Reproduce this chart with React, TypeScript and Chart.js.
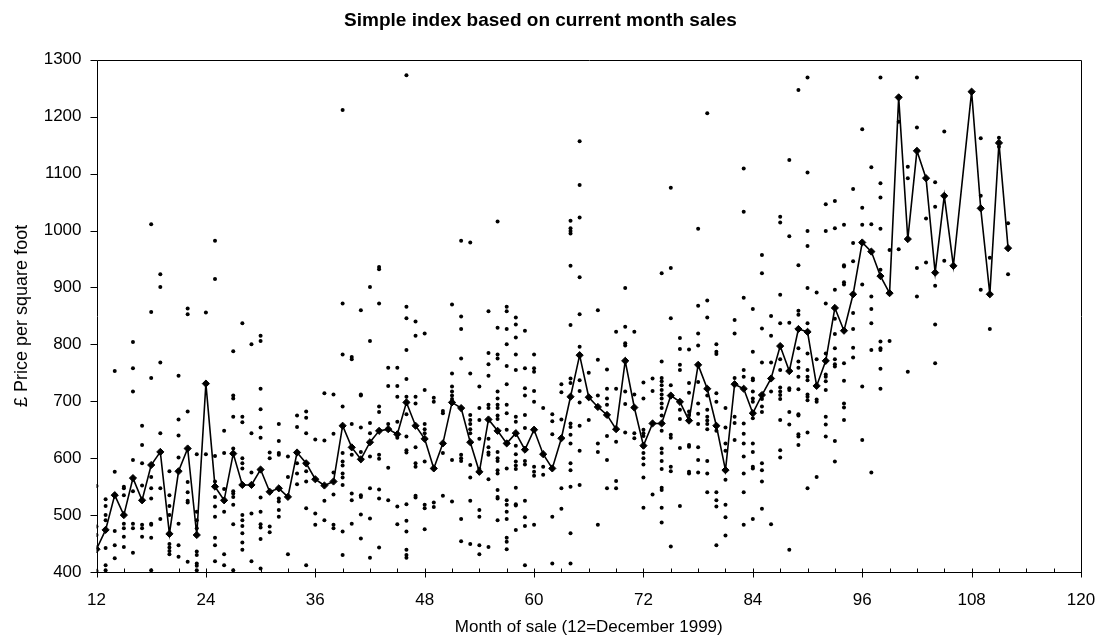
import React, { useEffect, useRef } from "react";
import { Chart, registerables } from "chart.js";

Chart.register(...registerables);

// Index (mean price per month)
const indexMonths: number[] = [
  12, 13, 14, 15, 16, 17, 18, 19, 20, 21, 22, 23, 24, 25, 26, 27, 28, 29, 30, 31, 32, 33, 34, 35,
  36, 37, 38, 39, 40, 41, 42, 43, 44, 45, 46, 47, 48, 49, 50, 51, 52, 53, 54, 55, 56, 57, 58, 59,
  60, 61, 62, 63, 64, 65, 66, 67, 68, 69, 70, 71, 72, 73, 74, 75, 76, 77, 78, 79, 80, 81, 82, 83,
  84, 85, 86, 87, 88, 89, 90, 91, 92, 93, 94, 95, 96, 97, 98, 99, 100, 101, 102, 103, 104, 105,
  106, 108, 109, 110, 111, 112,
];
const indexValues: number[] = [
  440, 474, 535, 500, 565, 526, 588, 611, 467, 577, 617, 465, 731, 550, 526, 608, 553, 553, 580, 541, 547, 532, 610, 591,
  563, 552, 559, 657, 619, 598, 628, 648, 651, 642, 698, 657, 634, 582, 626, 698, 688, 628, 576, 668, 648, 626, 644, 615,
  650, 607, 582, 635, 708, 781, 707, 690, 676, 651, 771, 689, 622, 661, 661, 710, 699, 666, 764, 722, 657, 579, 730, 722,
  679, 711, 740, 797, 753, 827, 822, 727, 771, 864, 824, 888, 979, 963, 920, 890, 1234, 985, 1140, 1092, 926, 1061,
  938, 1244, 1039, 888, 1154, 969,
];

// Individual sales: first month of the list, then one list of prices per month
const firstSaleMonth = 12;
const salePrices: number[][] = [
  [551, 480, 465, 402],
  [528, 516, 500, 491, 442, 412, 403],
  [753, 576, 472, 447, 424],
  [550, 547, 535, 485, 477, 462, 444],
  [804, 758, 717, 597, 542, 485, 477, 434],
  [657, 623, 591, 552, 483, 477, 462],
  [1011, 857, 741, 567, 547, 529, 485, 483, 460, 403],
  [923, 901, 768, 644, 547, 493],
  [577, 535, 516, 500, 449, 443, 437, 431],
  [745, 668, 640, 601, 485, 447, 427],
  [863, 853, 682, 558, 540, 525, 522, 418],
  [607, 506, 491, 477, 436, 430, 415, 411, 403],
  [856, 607],
  [982, 915, 604, 559, 532, 515, 497, 460, 447, 419],
  [648, 609, 546, 506, 431, 412],
  [788, 710, 705, 673, 617, 542, 538, 532, 518, 484, 403],
  [837, 673, 663, 600, 591, 582, 500, 491, 481, 468, 452, 439],
  [800, 644, 575, 503, 419],
  [815, 806, 722, 686, 654, 636, 531, 506, 484, 478, 458, 406],
  [610, 600, 480, 470],
  [660, 630, 609, 606, 529, 524, 509, 497],
  [603, 567, 431],
  [675, 655, 591, 573, 554],
  [682, 671, 644, 577, 559, 512, 412],
  [633, 503, 483],
  [714, 631, 525, 491],
  [712, 643, 575, 536, 483, 477],
  [1212, 872, 782, 691, 609, 594, 587, 573, 566, 553, 471, 430],
  [778, 774, 660, 606, 538, 526, 485],
  [860, 712, 710, 654, 611, 535, 532, 501, 459],
  [901, 806, 662, 644, 603, 547, 494, 425],
  [936, 932, 872, 691, 681, 606, 599, 545, 529, 443],
  [759, 727, 660, 583, 526],
  [759, 727, 708, 664, 636, 515, 484],
  [1273, 866, 846, 790, 739, 708, 677, 638, 614, 610, 519, 490, 471, 439, 430, 425],
  [840, 815, 708, 696, 619, 591, 585, 534, 531],
  [819, 720, 660, 651, 644, 594, 518, 512, 475],
  [706, 699, 522, 514],
  [683, 679, 609, 534],
  [870, 749, 726, 717, 710, 704, 699, 597, 524],
  [982, 849, 827, 775, 606, 600, 595, 493, 454],
  [979, 749, 676, 667, 660, 651, 644, 588, 566, 525, 449],
  [726, 688, 667, 634, 581, 509, 497, 447, 431],
  [858, 785, 765, 745, 694, 688, 634, 619, 610, 606, 563, 444],
  [1016, 829, 782, 775, 717, 705, 694, 688, 675, 669, 611, 600, 595, 579, 573, 544, 532, 529, 491],
  [866, 858, 827, 800, 762, 730, 694, 679, 650, 582, 526, 518, 506, 493, 460, 453, 440],
  [847, 835, 812, 782, 755, 673, 664, 641, 622, 607, 594, 587, 581, 548, 519, 517, 474],
  [824, 758, 723, 710, 676, 653, 595, 589, 525, 496, 481, 412],
  [782, 758, 752, 718, 699, 585, 576, 569, 483],
  [688, 585, 571],
  [677, 665, 642, 497, 415],
  [730, 716, 668, 547, 511],
  [1017, 1004, 999, 995, 938, 834, 740, 732, 661, 655, 641, 626, 591, 579, 550, 468, 415],
  [1157, 1080, 1023, 918, 853, 796, 737, 718, 698, 657, 613, 553],
  [750, 667],
  [860, 773, 710, 626, 611, 483],
  [756, 722, 705, 694, 639, 597, 547],
  [822, 722, 629, 560, 547],
  [899, 831, 802, 798, 717, 695, 645],
  [822, 712, 644, 635],
  [733, 705, 650, 644, 639, 620, 609, 600, 589, 566, 513],
  [740, 718, 536],
  [925, 770, 741, 735, 728, 720, 712, 705, 696, 688, 675, 648, 617, 609, 595, 581, 548, 544, 513, 487],
  [1075, 934, 846, 728, 641, 636, 585, 577, 445],
  [811, 792, 764, 755, 685, 669, 618, 516],
  [791, 732, 715, 682, 676, 623, 620, 576, 573],
  [1003, 868, 819, 798, 734, 696, 678, 660, 619, 597, 575],
  [1206, 877, 847, 710, 685, 673, 666, 660, 651, 595, 573, 540],
  [800, 787, 783, 714, 699, 648, 540, 526, 515, 447],
  [688, 654, 626, 613, 562, 518, 496, 464],
  [843, 819, 741, 673, 662, 632],
  [1109, 1033, 882, 755, 743, 661, 643, 626, 603, 573, 540, 483],
  [862, 787, 740, 737, 717, 705, 699, 670, 626, 611, 585, 582, 493],
  [957, 925, 828, 768, 704, 691, 681, 591, 579, 559, 511],
  [850, 815, 768, 717, 484],
  [1024, 1014, 887, 837, 774, 755, 724, 717, 711, 704, 667, 614, 601],
  [1124, 990, 838, 723, 720, 681, 659, 439],
  [1247, 939, 859, 852, 793, 770, 759, 743, 721, 677, 675, 642, 638, 623],
  [1269, 1102, 999, 973, 899, 837, 784, 755, 743, 737, 712, 708, 702, 645, 547],
  [891, 774, 703, 699, 567],
  [1046, 999, 872, 784, 747, 743, 735, 720, 673, 659, 638],
  [1052, 1004, 896, 845, 818, 793, 774, 765, 761, 630, 594],
  [1010, 939, 937, 909, 905, 767, 736, 696, 689, 667],
  [1073, 978, 946, 855, 827, 794, 777],
  [1178, 1040, 1010, 905, 726, 632],
  [1111, 1011, 884, 862, 837, 790, 575],
  [1269, 1083, 1058, 1003, 931, 805, 793, 790, 757, 722],
  [966, 806],
  [1191, 967],
  [1112, 1092, 752],
  [1269, 1181, 934, 884],
  [1021, 944],
  [1085, 1042, 903, 835, 767],
  [1174, 947],
  [],
  [],
  [],
  [1162, 1061, 896],
  [952, 827],
  [1163, 1147],
  [1013, 923],
];

const xMin = 12;
const xMax = 120;
const xStep = 12;
const xMinorStep = 3;
const yMin = 400;
const yMax = 1300;
const yStep = 100;

const titleText = "Simple index based on current month sales";
const xTitle = "Month of sale (12=December 1999)";
const yTitle = "£ Price per square foot";

const FONT = "'Liberation Sans', Arial, Helvetica, sans-serif";

const framePlugin = {
  id: "frame",
  afterDraw(chart: any) {
    const { ctx, chartArea: a, scales } = chart;
    const L = Math.round(a.left) + 0.5;
    const R = Math.round(a.right) + 0.5;
    const T = Math.round(a.top) + 0.5;
    const B = Math.round(a.bottom) + 0.5;
    ctx.save();
    ctx.strokeStyle = "#000";
    ctx.lineWidth = 1;
    ctx.beginPath();
    ctx.rect(L, T, R - L, B - T);
    for (let v = yMin; v <= yMax; v += yStep) {
      const y = Math.round(scales.y.getPixelForValue(v)) + 0.5;
      ctx.moveTo(L - 7, y);
      ctx.lineTo(L, y);
    }
    for (let m = xMin; m <= xMax; m += xMinorStep) {
      const x = Math.round(scales.x.getPixelForValue(m)) + 0.5;
      ctx.moveTo(x, B - 4);
      ctx.lineTo(x, m % xStep === 0 ? B + 5 : B);
    }
    ctx.stroke();
    ctx.restore();
  },
};

export default function App() {
  const ref = useRef<HTMLCanvasElement | null>(null);

  useEffect(() => {
    if (!ref.current) return;
    const salePoints: { x: number; y: number }[] = [];
    salePrices.forEach((list, i) => {
      list.forEach((p) => salePoints.push({ x: firstSaleMonth + i, y: p }));
    });
    const indexPoints = indexMonths.map((m, i) => ({ x: m, y: indexValues[i] }));

    const chart = new Chart(ref.current, {
      type: "scatter",
      data: {
        datasets: [
          {
            type: "line",
            data: indexPoints,
            borderColor: "#000",
            borderWidth: 1.6,
            backgroundColor: "#000",
            pointStyle: "rectRot",
            pointRadius: 3.6,
            pointBackgroundColor: "#000",
            pointBorderColor: "#000",
            pointBorderWidth: 1,
            tension: 0,
            fill: false,
          } as any,
          {
            type: "scatter",
            data: salePoints,
            backgroundColor: "#000",
            borderColor: "#000",
            borderWidth: 0,
            pointRadius: 2,
            showLine: false,
          },
        ],
      },
      options: {
        animation: false,
        responsive: true,
        maintainAspectRatio: false,
        events: [],
        layout: { padding: { left: 0, right: 20, top: 0, bottom: 0 } },
        plugins: {
          legend: { display: false },
          tooltip: { enabled: false },
          title: {
            display: true,
            text: titleText,
            color: "#000",
            font: { family: FONT, size: 19, weight: "bold" },
            padding: { top: 9, bottom: 28 },
          },
        },
        scales: {
          x: {
            type: "linear",
            min: xMin,
            max: xMax,
            border: { display: false },
            grid: { display: false, drawTicks: false },
            ticks: {
              stepSize: xStep,
              color: "#000",
              padding: 18,
              font: { family: FONT, size: 17 },
              maxRotation: 0,
              callback: (v: any) => String(v),
            },
            title: {
              display: true,
              text: xTitle,
              color: "#000",
              font: { family: FONT, size: 17 },
              padding: { top: 0, bottom: 3 },
            },
            afterFit: (s: any) => {
              s.height = 69;
              s.paddingLeft = 0;
              s.paddingRight = 0;
            },
          },
          y: {
            type: "linear",
            min: yMin,
            max: yMax,
            border: { display: false },
            grid: { display: false, drawTicks: false },
            ticks: {
              stepSize: yStep,
              color: "#000",
              padding: 15,
              font: { family: FONT, size: 17 },
              callback: (v: any) => String(v),
            },
            title: {
              display: true,
              text: yTitle,
              color: "#000",
              font: { family: FONT, size: 18 },
              padding: { top: 11, bottom: 0 },
            },
            afterFit: (s: any) => {
              s.width = 96.5;
              s.paddingTop = 0;
              s.paddingBottom = 0;
            },
          },
        },
      },
      plugins: [framePlugin],
    });
    return () => chart.destroy();
  }, []);

  return (
    <div
      style={{
        position: "absolute",
        left: 0,
        top: 0,
        width: 1101,
        height: 641,
        background: "#fff",
      }}
    >
      <canvas ref={ref} />
    </div>
  );
}
